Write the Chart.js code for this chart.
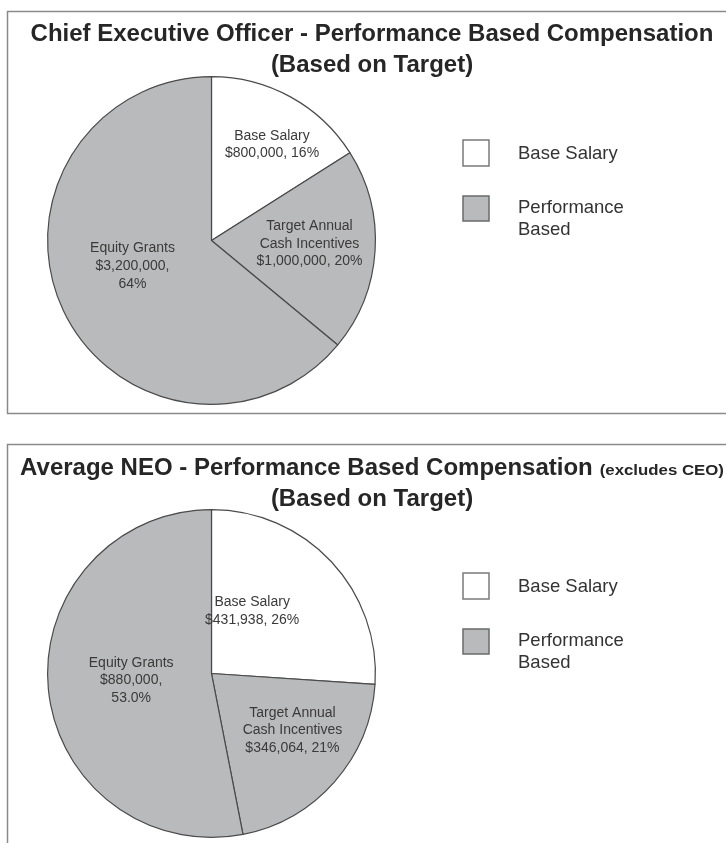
<!DOCTYPE html>
<html><head><meta charset="utf-8">
<script src="https://cdn.jsdelivr.net/npm/chart.js@4/dist/chart.umd.min.js"></script>
<style>
html,body{margin:0;padding:0;background:#fff;overflow:hidden;width:726px;height:843px;}
.panel{position:absolute;left:0;width:726px;height:433px;}
#p1{top:0}
#p2{top:433px}
canvas{display:block}
</style></head><body>
<div class="panel" id="p1"><canvas id="c1" width="726" height="433"></canvas></div>
<div class="panel" id="p2"><canvas id="c2" width="726" height="433"></canvas></div>
<script>
// ---------- data ----------
const categories = ["Base Salary", "Target Annual Cash Incentives", "Equity Grants"];
const sliceLabelLines = [["Base Salary"], ["Target Annual", "Cash Incentives"], ["Equity Grants"]];
const ceoValues = [800000, 1000000, 3200000];
const ceoPctLabels = ["16%", "20%", "64%"];
const neoValues = [431938, 346064, 880000];
const neoPctLabels = ["26%", "21%", "53.0%"];
const ceoTitle = ["Chief Executive Officer - Performance Based Compensation", "(Based on Target)"];
const neoTitle = ["Average NEO - Performance Based Compensation", "(Based on Target)"];
const neoTitleNote = "(excludes CEO)";
const legendLabels = [["Base Salary"], ["Performance", "Based"]];

// ---------- style ----------
const GRAY = "#b9babc";
const sliceColors = ["#ffffff", GRAY, GRAY];
const legendColors = ["#ffffff", GRAY];
const FONT = '"Liberation Sans", Arial, Helvetica, sans-serif';
// label anchor offsets relative to pie centre, in units of radius
const ceoLabelOffsets = [[0.369, -0.585], [0.598, 0.020], [-0.482, 0.155]];
const neoLabelOffsets = [[0.248, -0.381], [0.494, 0.348], [-0.490, 0.043]];
const splitValueLine = [false, false, true];

function fmtMoney(v) { return "$" + v.toLocaleString("en-US"); }

function makePlugin(cfg) {
  return {
    id: "custom",
    beforeDraw(chart) {
      const ctx = chart.ctx;
      ctx.save();
      ctx.fillStyle = "#fff";
      ctx.fillRect(0, 0, chart.width, chart.height);
      // panel border
      ctx.strokeStyle = "#8a8a8a";
      ctx.lineWidth = 1.5;
      ctx.strokeRect(7.5, 11.5, 740, 402);
      // title
      ctx.fillStyle = "#262626";
      ctx.textBaseline = "middle";
      ctx.textAlign = "left";
      const cx = 372;
      const noteScale = 1.2, gap = 7;
      ctx.font = "bold 24px " + FONT;
      const w1 = ctx.measureText(cfg.title[0]).width;
      let w2 = 0;
      if (cfg.note) {
        ctx.font = "bold 14px " + FONT;
        w2 = ctx.measureText(cfg.note).width * noteScale + gap;
      }
      const x0 = cx - (w1 + w2) / 2;
      ctx.font = "bold 24px " + FONT;
      ctx.fillText(cfg.title[0], x0, cfg.titleY[0]);
      if (cfg.note) {
        ctx.save();
        ctx.font = "bold 14px " + FONT;
        ctx.translate(x0 + w1 + gap, cfg.titleY[0] + 3);
        ctx.scale(noteScale, 1);
        ctx.fillText(cfg.note, 0, 0);
        ctx.restore();
      }
      ctx.font = "bold 24px " + FONT;
      ctx.textAlign = "center";
      ctx.fillText(cfg.title[1], cx, cfg.titleY[1]);
      ctx.restore();
    },
    afterDatasetsDraw(chart) {
      const ctx = chart.ctx;
      const meta = chart.getDatasetMeta(0);
      ctx.save();
      // slice labels
      ctx.fillStyle = "#3a3a3a";
      ctx.font = "14px " + FONT;
      ctx.textAlign = "center";
      ctx.textBaseline = "middle";
      const lh = 17.8;
      meta.data.forEach((arc, i) => {
        const r = arc.outerRadius;
        const px = arc.x + cfg.offsets[i][0] * r;
        const py = arc.y + cfg.offsets[i][1] * r;
        const lines = sliceLabelLines[i].slice();
        const money = fmtMoney(cfg.values[i]);
        if (splitValueLine[i]) { lines.push(money + ","); lines.push(cfg.pct[i]); }
        else lines.push(money + ", " + cfg.pct[i]);
        const y0 = py - (lines.length - 1) * lh / 2;
        lines.forEach((t, k) => ctx.fillText(t, px, y0 + k * lh));
      });
      // legend
      const lx = 463, bw = 26;
      const boxY = [140, 196];
      const boxH = [26, 25];
      ctx.textAlign = "left";
      ctx.font = "18.5px " + FONT;
      legendLabels.forEach((lab, i) => {
        ctx.fillStyle = legendColors[i];
        ctx.fillRect(lx, boxY[i], bw, boxH[i]);
        ctx.strokeStyle = i === 0 ? "#7a7a7a" : "#6a6a6a";
        ctx.lineWidth = 1.5;
        ctx.strokeRect(lx, boxY[i], bw, boxH[i]);
        ctx.fillStyle = "#333";
        if (lab.length === 1) ctx.fillText(lab[0], 518, boxY[i] + 13.5);
        else {
          ctx.fillText(lab[0], 518, boxY[i] + 12);
          ctx.fillText(lab[1], 518, boxY[i] + 34);
        }
      });
      ctx.restore();
    }
  };
}

function makeChart(id, values, cfg) {
  return new Chart(document.getElementById(id), {
    type: "pie",
    data: {
      labels: categories,
      datasets: [{
        data: values,
        backgroundColor: sliceColors,
        borderColor: "#4a4a4a",
        borderWidth: 1.2,
        hoverOffset: 0
      }]
    },
    options: {
      responsive: false,
      animation: false,
      events: [],
      layout: { padding: { left: 47, right: 350, top: 76, bottom: 28 } },
      plugins: { legend: { display: false }, tooltip: { enabled: false }, title: { display: false } }
    },
    plugins: [makePlugin(cfg)]
  });
}

makeChart("c1", ceoValues, { title: ceoTitle, titleY: [34, 65], offsets: ceoLabelOffsets, values: ceoValues, pct: ceoPctLabels });
makeChart("c2", neoValues, { title: neoTitle, note: neoTitleNote, titleY: [35, 66], offsets: neoLabelOffsets, values: neoValues, pct: neoPctLabels });
</script>
</body></html>
